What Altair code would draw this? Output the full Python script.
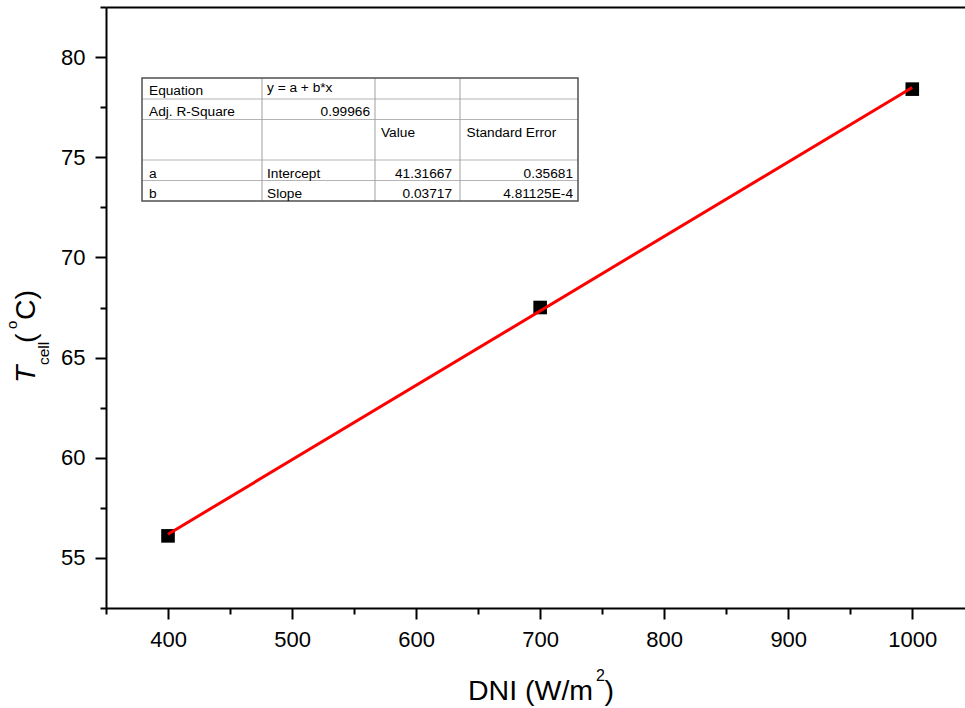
import altair as alt
import pandas as pd

# ---- data ----
dni = [400, 700, 1000]
tcell = [56.1, 67.5, 78.4]

x_major = [400, 500, 600, 700, 800, 900, 1000]
x_minor = [350, 450, 550, 650, 750, 850, 950]
y_major = [55, 60, 65, 70, 75, 80]
y_minor = [52.5, 57.5, 62.5, 67.5, 72.5, 77.5, 82.5]

table_text = [
    ["Equation", "y = a + b*x", "", ""],
    ["Adj. R-Square", "0.99966", "", ""],
    ["", "", "Value", "Standard Error"],
    ["a", "Intercept", "41.31667", "0.35681"],
    ["b", "Slope", "0.03717", "4.81125E-4"],
]
right_cells = {(1, 1), (3, 2), (3, 3), (4, 2), (4, 3)}

# ---- layout (pixels, relative to plot origin) ----
W, H = 859, 601
PAD = {"left": 106, "top": 7, "right": 0, "bottom": 100}
FONT = "Liberation Sans"

col_edges = [36, 156, 269, 354, 472]
row_edges = [71, 92, 112.5, 153, 173.5, 194]
row_base = [87.5, 108.5, 130, 170.5, 191]
col_left = [43, 161, 275, 360.5]
col_right = [None, 264, 346, 467]

df = pd.DataFrame({"dni": dni, "t": tcell})
one = pd.DataFrame({"k": [0]})

xs = alt.Scale(domain=[350, 1042.5], nice=False, zero=False)
ys = alt.Scale(domain=[52.5, 82.5], nice=False, zero=False)

major_x = alt.Axis(orient="bottom", values=x_major, format="d", tickSize=11, tickWidth=2,
                   tickColor="black", domainColor="black", domainWidth=2, labelFont=FONT,
                   labelFontSize=22, labelColor="black", labelPadding=10, title=None, grid=False)
minor_x = alt.Axis(orient="bottom", values=x_minor, tickSize=6, tickWidth=2, tickColor="black",
                   domain=False, labels=False, title=None, grid=False)
major_y = alt.Axis(orient="left", values=y_major, format="d", tickSize=11, tickWidth=2,
                   tickColor="black", domainColor="black", domainWidth=2, labelFont=FONT,
                   labelFontSize=22, labelColor="black", labelPadding=10, title=None, grid=False)
minor_y = alt.Axis(orient="left", values=y_minor, tickSize=6, tickWidth=2, tickColor="black",
                   domain=False, labels=False, title=None, grid=False)
top_x = alt.Axis(orient="top", ticks=False, labels=False, domainColor="black", domainWidth=2,
                 title=None, grid=False)

points = alt.Chart(df).mark_square(size=185, color="black", opacity=1).encode(
    x=alt.X("dni:Q", scale=xs, axis=major_x),
    y=alt.Y("t:Q", scale=ys, axis=major_y),
)
fit = alt.Chart(df).transform_regression("dni", "t", extent=[400, 1000]).mark_line(
    color="#ff0000", strokeWidth=3).encode(
    x=alt.X("dni:Q", scale=xs, axis=minor_x),
    y=alt.Y("t:Q", scale=ys, axis=minor_y),
)
topline = alt.Chart(df).mark_point(opacity=0).encode(
    x=alt.X("dni:Q", scale=xs, axis=top_x),
    y=alt.Y("t:Q", scale=ys, axis=None),
)

layers = [points, fit, topline]

# ---- fit-result table ----
layers.append(alt.Chart(one).mark_rect(fill="white").encode(
    x=alt.value(col_edges[0]), x2=alt.value(col_edges[-1]),
    y=alt.value(row_edges[0]), y2=alt.value(row_edges[-1])))
for r in row_edges[1:-1]:
    layers.append(alt.Chart(one).mark_rule(color="#b4b4b4", strokeWidth=1).encode(
        x=alt.value(col_edges[0]), x2=alt.value(col_edges[-1]), y=alt.value(r)))
for c in col_edges[1:-1]:
    layers.append(alt.Chart(one).mark_rule(color="#a0a0a0", strokeWidth=1).encode(
        x=alt.value(c), y=alt.value(row_edges[0]), y2=alt.value(row_edges[-1])))
layers.append(alt.Chart(one).mark_rect(fill=None, stroke="#505050", strokeWidth=1.5).encode(
    x=alt.value(col_edges[0]), x2=alt.value(col_edges[-1]),
    y=alt.value(row_edges[0]), y2=alt.value(row_edges[-1])))

for i, row in enumerate(table_text):
    for j, txt in enumerate(row):
        if not txt:
            continue
        right = (i, j) in right_cells
        yb = row_base[i] - (3 if (i, j) == (0, 1) else 0)
        layers.append(alt.Chart(one).mark_text(
            align="right" if right else "left", baseline="alphabetic", font=FONT,
            fontSize=13.7, color="black").encode(
            x=alt.value(col_right[j] if right else col_left[j]), y=alt.value(yb),
            text=alt.value(txt)))

# ---- axis titles (rich text built from pieces) ----
def piece(txt, x, y, size, angle=0, style="normal"):
    return alt.Chart(one).mark_text(align="left", baseline="alphabetic", font=FONT,
                                    fontSize=size, angle=angle, fontStyle=style,
                                    color="black").encode(
        x=alt.value(x), y=alt.value(y), text=alt.value(txt))

layers += [
    piece("DNI (W/m", 362, 693, 28.5),
    piece("2", 490, 674, 16),
    piece(")", 498.5, 693, 28.5),
    piece("T", -71, 376, 28.5, 270, "italic"),
    piece("cell", -57, 358, 15.5, 270),
    piece("(", -71, 336, 28.5, 270),
    piece("o", -89, 322, 15, 270),
    piece("C)", -71, 313, 28.5, 270),
]

chart = alt.layer(*layers).resolve_axis(x="independent", y="independent").properties(
    width=W, height=H, padding=PAD, background="white",
    autosize=alt.AutoSizeParams(type="none"),
).configure_view(stroke=None)

chart.save("out.html", embed_options={"renderer": "svg", "actions": False})
